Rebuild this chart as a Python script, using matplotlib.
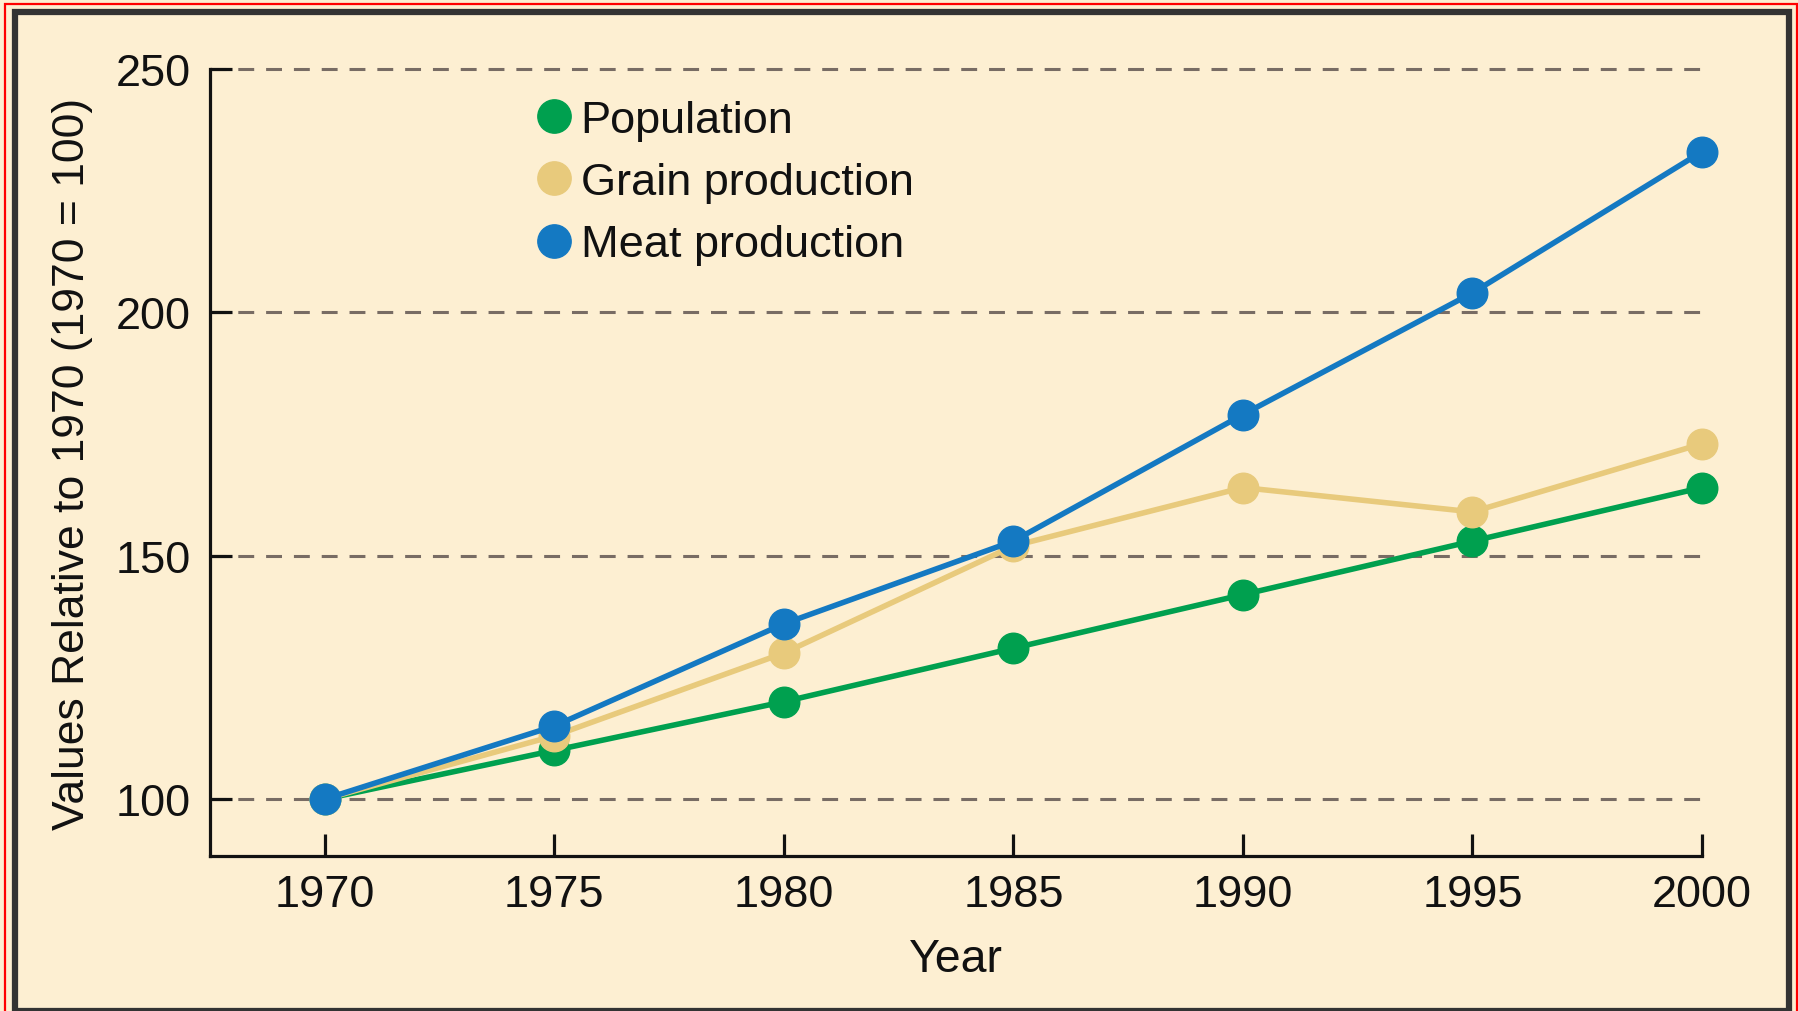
import matplotlib
matplotlib.use("Agg")
import matplotlib.pyplot as plt
from matplotlib.patches import Rectangle
from matplotlib.lines import Line2D

years = [1970, 1975, 1980, 1985, 1990, 1995, 2000]
population = [100, 110, 120, 131, 142, 153, 164]
grain = [100, 113, 130, 152, 164, 159, 173]
meat = [100, 115, 136, 153, 179, 204, 233]
y_ticks = [100, 150, 200, 250]
series_names = ["Population", "Grain production", "Meat production"]

BG = "#FDEFD2"
GREEN = "#00A04F"
GRAIN = "#E8CA7C"
BLUE = "#1479C2"

plt.rcParams['font.family'] = ['Liberation Sans', 'DejaVu Sans']

W, H = 1799, 1012
fig = plt.figure(figsize=(W / 100, H / 100), dpi=100)
fig.patch.set_facecolor(BG)

# axes placement in pixels
x0, x1 = 210, 1702
y_top, y_bot = 70, 857
ax = fig.add_axes([x0 / W, 1 - y_bot / H, (x1 - x0) / W, (y_bot - y_top) / H])
ax.set_facecolor(BG)
ax.set_xlim(1967.5, 2000)
ax.set_ylim(88.3, 250)

for yv in y_ticks:
    ax.plot([1967.5, 2000], [yv, yv], color="#786C64", lw=2.2,
            dashes=(5.2, 3.9), zorder=1, clip_on=False)

lw = 4.0
ms = 22
ax.plot(years, population, color=GREEN, lw=lw, marker='o', ms=ms, zorder=3,
        clip_on=False)
ax.plot(years, grain, color=GRAIN, lw=lw, marker='o', ms=ms, zorder=4,
        clip_on=False)
ax.plot(years, meat, color=BLUE, lw=lw, marker='o', ms=ms, zorder=5,
        clip_on=False)

ax.spines['top'].set_visible(False)
ax.spines['right'].set_visible(False)
for s in ['left', 'bottom']:
    ax.spines[s].set_linewidth(2.3)
    ax.spines[s].set_color("#111111")

ax.set_xticks(years)
ax.set_xticklabels([str(y) for y in years])
ax.set_yticks(y_ticks)
ax.set_yticklabels([str(v) for v in y_ticks])
ax.tick_params(axis='both', direction='in', length=16, width=2.3,
               color="#111111", labelsize=32.5, labelcolor="#111111")
ax.tick_params(axis='x', pad=13)
ax.tick_params(axis='y', pad=14)

ax.set_xlabel("Year", fontsize=33.5, color="#111111", labelpad=16)
ax.set_ylabel("Values Relative to 1970 (1970 = 100)", fontsize=32,
              color="#111111", labelpad=16)

handles = [Line2D([], [], marker='o', ls='none', ms=ms + 2, color=c)
           for c in (GREEN, GRAIN, BLUE)]
leg = ax.legend(handles, series_names, loc='upper left',
                bbox_to_anchor=((540 - x0) / (x1 - x0), 1 - (101 - y_top) / (y_bot - y_top)),
                frameon=False, fontsize=32.5, handlelength=0.6, handletextpad=0.3,
                labelspacing=0.47, borderaxespad=0, borderpad=0)
for t in leg.get_texts():
    t.set_color("#111111")

# frame borders
fig.add_artist(Rectangle((14.5 / W, 0), (1789 - 14.5) / W, 1 - 13 / H,
                         transform=fig.transFigure, fill=False,
                         edgecolor="#333333", lw=4.5))
fig.add_artist(Rectangle((5 / W, -0.01), (1797 - 5) / W, 1 - 5 / H + 0.01,
                         transform=fig.transFigure, fill=False,
                         edgecolor="#FF0000", lw=1.6))

fig.savefig("out.png", dpi=100, facecolor=BG)
